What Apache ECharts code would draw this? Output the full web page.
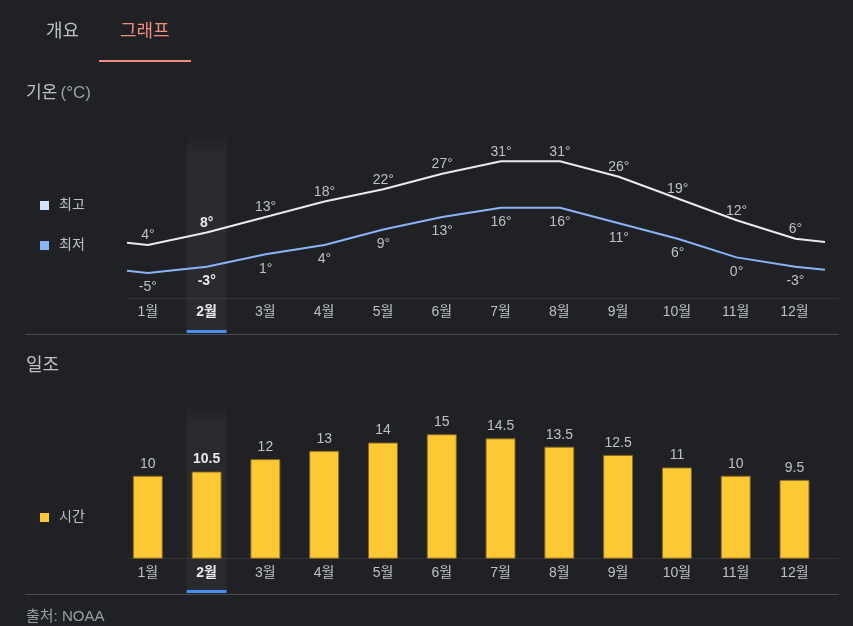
<!DOCTYPE html>
<html><head><meta charset="utf-8">
<script src="https://cdn.jsdelivr.net/npm/echarts@6/dist/echarts.min.js"></script>
<style>html,body{margin:0;padding:0;background:#202124;}#c{width:853px;height:626px;}</style>
</head><body><div id="c"></div>
<script>
const months = ['1월','2월','3월','4월','5월','6월','7월','8월','9월','10월','11월','12월'];
const highs = [4, 8, 13, 18, 22, 27, 31, 31, 26, 19, 12, 6];
const lows = [-5, -3, 1, 4, 9, 13, 16, 16, 11, 6, 0, -3];
const sunHours = [10, 10.5, 12, 13, 14, 15, 14.5, 13.5, 12.5, 11, 10, 9.5];
const highlightIndex = 1;

const FONT = "Arial, 'Liberation Sans', 'Noto Sans CJK KR', sans-serif";
const LABEL = '#bdc1c6';
const BRIGHT = '#e8eaed';

function wrapLine(arr) {
  const pts = [{value: [0, arr[arr.length - 1]], label: {show: false}}];
  arr.forEach((v, i) => {
    const item = {value: [i + 1, v]};
    if (i === highlightIndex) item.label = {fontWeight: 'bold', color: BRIGHT};
    pts.push(item);
  });
  pts.push({value: [arr.length + 1, arr[0]], label: {show: false}});
  return pts;
}
const markData = months.map((m, i) => i === highlightIndex ? 1 : '-');

const catLeft = 118.4, catWidth = 705.5;
const hidden = {show: false};
const catAxisLabel = {
  color: LABEL, fontSize: 14, fontFamily: FONT, margin: 7,
  formatter: (v, i) => i === highlightIndex ? '{b|' + v + '}' : v,
  rich: {b: {fontWeight: 'bold', color: BRIGHT, fontSize: 14, fontFamily: FONT}}
};
const bandColor = {type: 'linear', x: 0, y: 0, x2: 0, y2: 1, colorStops: [
  {offset: 0, color: 'rgba(255,255,255,0)'},
  {offset: 0.1, color: 'rgba(255,255,255,0.045)'},
  {offset: 1, color: 'rgba(255,255,255,0.045)'}]};
const legendText = {color: LABEL, fontSize: 14, fontFamily: FONT, lineHeight: 16, padding: [0, 0, 0, 5]};

const option = {
  backgroundColor: '#202124',
  animation: false,
  textStyle: {fontFamily: FONT},
  grid: [
    {left: 128, width: 695.5, top: 130.3, height: 168},           // 0 lines
    {left: catLeft, width: catWidth, top: 130.3, height: 168},     // 1 month labels top
    {left: 128, width: 711, top: 130.3, height: 168},              // 2 axis line top
    {left: catLeft, width: catWidth, top: 135, height: 195},       // 3 band top
    {left: catLeft, width: catWidth, top: 330, height: 3},         // 4 underline top
    {left: catLeft, width: catWidth, top: 392.7, height: 166},     // 5 bars
    {left: 128, width: 711, top: 392.7, height: 166},              // 6 axis line bottom
    {left: catLeft, width: catWidth, top: 404, height: 186},       // 7 band bottom
    {left: catLeft, width: catWidth, top: 590, height: 3}          // 8 underline bottom
  ],
  xAxis: [
    {gridIndex: 0, type: 'value', min: 0.663, max: 12.477, show: false},
    {gridIndex: 1, type: 'category', data: months, axisLine: hidden, axisTick: hidden, axisLabel: catAxisLabel},
    {gridIndex: 2, type: 'value', min: 0, max: 1, axisLine: {show: true, lineStyle: {color: '#323336', width: 1}}, axisTick: hidden, axisLabel: hidden, splitLine: hidden},
    {gridIndex: 3, type: 'category', data: months, show: false},
    {gridIndex: 4, type: 'category', data: months, show: false},
    {gridIndex: 5, type: 'category', data: months, axisLine: hidden, axisTick: hidden, axisLabel: catAxisLabel},
    {gridIndex: 6, type: 'value', min: 0, max: 1, axisLine: {show: true, lineStyle: {color: '#323336', width: 1}}, axisTick: hidden, axisLabel: hidden, splitLine: hidden},
    {gridIndex: 7, type: 'category', data: months, show: false},
    {gridIndex: 8, type: 'category', data: months, show: false}
  ],
  yAxis: [
    {gridIndex: 0, type: 'value', min: -13.2, max: 41, show: false},
    {gridIndex: 1, type: 'value', show: false},
    {gridIndex: 2, type: 'value', show: false},
    {gridIndex: 3, type: 'value', min: 0, max: 1, show: false},
    {gridIndex: 4, type: 'value', min: 0, max: 1, show: false},
    {gridIndex: 5, type: 'value', min: 0, max: 20, show: false},
    {gridIndex: 6, type: 'value', show: false},
    {gridIndex: 7, type: 'value', min: 0, max: 1, show: false},
    {gridIndex: 8, type: 'value', min: 0, max: 1, show: false}
  ],
  legend: [
    {left: 35, top: 192.5, orient: 'vertical', icon: 'rect', itemWidth: 9, itemHeight: 9, itemGap: 24,
     data: ['최고', '최저'], selectedMode: false, itemStyle: {borderWidth: 0}, textStyle: legendText},
    {left: 35, top: 504.5, orient: 'vertical', icon: 'rect', itemWidth: 9, itemHeight: 9,
     data: ['시간'], selectedMode: false, itemStyle: {borderWidth: 0}, textStyle: legendText}
  ],
  series: [
    {name: 'band1', type: 'bar', xAxisIndex: 3, yAxisIndex: 3, data: markData, barWidth: 40, silent: true, z: 0,
     itemStyle: {color: bandColor}},
    {name: 'under1', type: 'bar', xAxisIndex: 4, yAxisIndex: 4, data: markData, barWidth: 40, silent: true,
     itemStyle: {color: '#4c8bf5'}},
    {name: 'band2', type: 'bar', xAxisIndex: 7, yAxisIndex: 7, data: markData, barWidth: 40, silent: true, z: 0,
     itemStyle: {color: bandColor}},
    {name: 'under2', type: 'bar', xAxisIndex: 8, yAxisIndex: 8, data: markData, barWidth: 40, silent: true,
     itemStyle: {color: '#4c8bf5'}},
    {name: '최고', type: 'line', xAxisIndex: 0, yAxisIndex: 0, data: wrapLine(highs), clip: true,
     symbol: 'circle', symbolSize: 1, z: 5,
     itemStyle: {color: '#d2e3fc'}, lineStyle: {color: '#e8eaed', width: 2},
     label: {show: true, position: 'top', distance: 2, color: LABEL, fontSize: 14, fontFamily: FONT, formatter: p => p.value[1] + '°'}},
    {name: '최저', type: 'line', xAxisIndex: 0, yAxisIndex: 0, data: wrapLine(lows), clip: true,
     symbol: 'circle', symbolSize: 1, z: 5,
     itemStyle: {color: '#8ab4f8'}, lineStyle: {color: '#8ab4f8', width: 2},
     label: {show: true, position: 'bottom', distance: 7, color: LABEL, fontSize: 14, fontFamily: FONT, formatter: p => p.value[1] + '°'}},
    {name: '시간', type: 'bar', xAxisIndex: 5, yAxisIndex: 5, barWidth: 30, z: 5,
     data: sunHours.map((v, i) => i === highlightIndex ? {value: v, label: {fontWeight: 'bold', color: BRIGHT}} : v),
     itemStyle: {color: '#fcc934', borderColor: 'rgba(130,100,30,0.9)', borderWidth: 1},
     label: {show: true, position: 'top', distance: 5, color: LABEL, fontSize: 14, fontFamily: FONT}}
  ],
  graphic: [
    {type: 'text', left: 46, top: 23, style: {text: '개요', fill: '#bdc1c6', font: "18px " + FONT}},
    {type: 'text', left: 120, top: 23, style: {text: '그래프', fill: '#f28b82', font: "18px " + FONT}},
    {type: 'rect', shape: {x: 99, y: 60, width: 92, height: 2}, style: {fill: '#f28b82'}},
    {type: 'text', left: 26, top: 85, style: {
      text: '{a|기온} {b|(°C)}', rich: {a: {fill: '#bdc1c6', font: "17px " + FONT}, b: {fill: '#9aa0a6', font: "17px " + FONT}}}},
    {type: 'rect', shape: {x: 25, y: 334, width: 814, height: 1}, style: {fill: '#494c50'}},
    {type: 'text', left: 26, top: 357, style: {text: '일조', fill: '#bdc1c6', font: "18px " + FONT}},
    {type: 'rect', shape: {x: 25, y: 594, width: 814, height: 1}, style: {fill: '#494c50'}},
    {type: 'text', left: 26, top: 609, style: {text: '출처: NOAA', fill: '#9aa0a6', font: "15px " + FONT}}
  ]
};
const chart = echarts.init(document.getElementById('c'), null, {renderer: 'canvas'});
chart.setOption(option);
</script></body></html>
